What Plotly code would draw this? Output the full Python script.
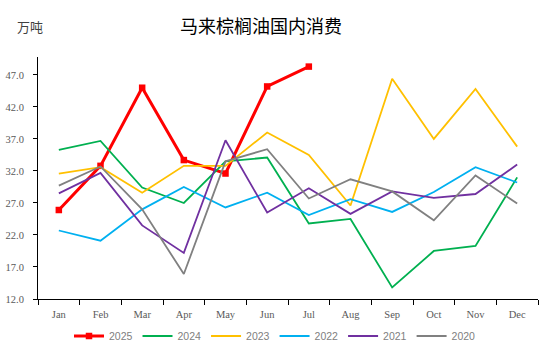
import plotly.graph_objects as go

months = ["Jan", "Feb", "Mar", "Apr", "May", "Jun", "Jul", "Aug", "Sep", "Oct", "Nov", "Dec"]
y2025 = [25.9, 32.8, 45.0, 33.7, 31.6, 45.2, 48.3]
y2024 = [35.3, 36.7, 29.4, 27.0, 33.5, 34.1, 23.8, 24.5, 13.8, 19.5, 20.3, 31.0]
y2023 = [31.6, 32.6, 28.6, 32.8, 32.8, 38.0, 34.5, 26.6, 46.4, 37.0, 44.8, 35.8]
y2022 = [22.7, 21.1, 26.0, 29.5, 26.3, 28.6, 25.1, 27.6, 25.6, 28.7, 32.6, 30.2]
y2021 = [28.5, 31.7, 23.5, 19.2, 36.8, 25.5, 29.3, 25.3, 28.8, 27.8, 28.4, 33.0]
y2020 = [29.7, 32.7, 26.0, 15.9, 33.5, 35.4, 27.7, 30.7, 28.8, 24.3, 31.3, 26.9]
yticks = [12.0, 17.0, 22.0, 27.0, 32.0, 37.0, 42.0, 47.0]

fig = go.Figure()
fig.add_trace(go.Scatter(x=months[:len(y2025)], y=y2025, name="2025", mode="lines+markers",
                         line=dict(color="#FF0000", width=3),
                         marker=dict(symbol="square", size=6.5, color="#FF0000")))
series = [("2024", y2024, "#00B050"), ("2023", y2023, "#FFC000"), ("2022", y2022, "#00B0F0"),
          ("2021", y2021, "#7030A0"), ("2020", y2020, "#808080")]
for name, ys, col in series:
    fig.add_trace(go.Scatter(x=months, y=ys, name=name, mode="lines",
                             line=dict(color=col, width=1.8)))

fig.update_layout(
    width=550, height=352,
    margin=dict(l=38, r=12, t=57, b=53, autoexpand=False),
    paper_bgcolor="white", plot_bgcolor="white",
    font=dict(family="Liberation Serif, DejaVu Serif, serif", size=10.5, color="#595959"),
    title=dict(text="马来棕榈油国内消费", x=261/550, xanchor="center", xref="container",
               y=1 - 27/352, yanchor="middle", yref="container",
               font=dict(family="Noto Sans CJK SC", size=18, color="#000000")),
    showlegend=True,
    legend=dict(orientation="h", x=275/550, xanchor="center", xref="container",
                y=1 - 336/352, yanchor="middle", yref="container",
                font=dict(family="Liberation Sans, Arial, sans-serif", size=10.5, color="#808080"),
                itemwidth=30, tracegroupgap=0),
    annotations=[dict(text="万吨", xref="paper", yref="paper", x=-23/500, y=(299 - 26) / 242,
                      xanchor="left", yanchor="middle", showarrow=False,
                      font=dict(family="Noto Sans CJK SC", size=13, color="#404040"))],
)
fig.update_xaxes(type="category", categoryorder="array", categoryarray=months,
                 showline=True, linecolor="#000000", linewidth=1,
                 ticks="outside", tickson="boundaries", ticklen=5, tickcolor="#000000",
                 ticklabelstandoff=5,
                 showgrid=False, zeroline=False, range=[-0.5, 11.5])
fig.update_yaxes(range=[12, 49.8], tickvals=yticks, ticktext=[f"{v:.1f}" for v in yticks],
                 showline=True, linecolor="#000000", linewidth=1,
                 ticks="outside", ticklen=4, tickcolor="#000000", ticklabelstandoff=7,
                 showgrid=False, zeroline=False)

fig.write_html("out.html")
